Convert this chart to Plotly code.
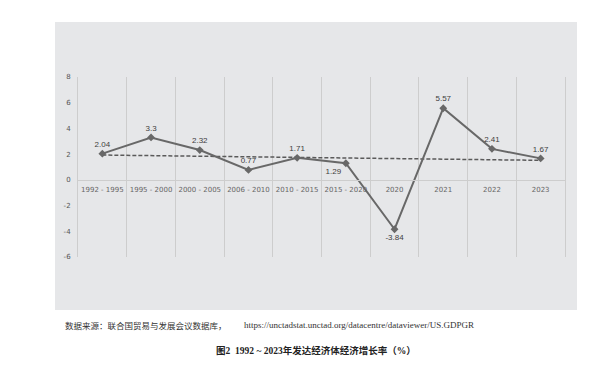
import numpy as np
import plotly.graph_objects as go

categories = ["1992 - 1995", "1995 - 2000", "2000 - 2005", "2006 - 2010", "2010 - 2015",
              "2015 - 2020", "2020", "2021", "2022", "2023"]
growth = [2.04, 3.3, 2.32, 0.77, 1.71, 1.29, -3.84, 5.57, 2.41, 1.67]
label_positions = ["top center"] * 5 + ["bottom left", "bottom center"] + ["top center"] * 3
y_ticks = [8, 6, 4, 2, 0, -2, -4, -6]
y_tick_text = ["8", "6", "4", "2", "0", "-2", "-4", "-6"]

source_cn = "数据来源：联合国贸易与发展会议数据库，"
source_url = "https://unctadstat.unctad.org/datacentre/dataviewer/US.GDPGR"
title_text = "<b>图2  1992 ~ 2023年发达经济体经济增长率（%）</b>"

# linear trend line (as in the original spreadsheet trendline)
idx = np.arange(len(growth))
slope, intercept = np.polyfit(idx, growth, 1)
trend = slope * idx + intercept

# page has an 8px body margin; figure is drawn offset by it
OFF = 8
W, H = 600 - OFF, 372 - OFF
# plot area in page pixels: x 78..565, y 77..257
L, T = 78 - OFF, 77 - OFF
R, B = W - (565 - OFF), H - (257 - OFF)
pw, ph = W - L - R, H - T - B


def px_x(p):
    return (p - OFF - L) / pw


def px_y(p):
    return (H - B - (p - OFF)) / ph


GRID = "#cdcdcd"

fig = go.Figure()
fig.add_trace(go.Scatter(
    x=categories, y=trend, mode="lines",
    line=dict(color="#5a5a5a", width=1.5, dash="4px,2px"),
    hoverinfo="skip", showlegend=False,
))
fig.add_trace(go.Scatter(
    x=categories, y=growth, mode="lines+markers+text",
    line=dict(color="#686868", width=2),
    marker=dict(symbol="diamond", size=6, color="#686868"),
    text=[f"{v:g}" for v in growth], textposition=label_positions,
    textfont=dict(family="Liberation Sans, Arial", size=8, color="#404040"),
    showlegend=False,
))

fig.add_shape(type="rect", xref="paper", yref="paper",
              x0=px_x(55), x1=px_x(577), y0=px_y(310), y1=px_y(22),
              fillcolor="#e6e7e9", line=dict(width=0), layer="below")

fig.add_annotation(x=px_x(63), y=px_y(325), xref="paper", yref="paper",
                   xanchor="left", yanchor="middle", showarrow=False,
                   text=source_cn,
                   font=dict(family="Noto Sans CJK SC", size=8.5, color="#333333"))
fig.add_annotation(x=px_x(242), y=px_y(325), xref="paper", yref="paper",
                   xanchor="left", yanchor="middle", showarrow=False,
                   text=source_url,
                   font=dict(family="Liberation Serif", size=9, color="#333333"))
fig.add_annotation(x=px_x(316), y=px_y(350), xref="paper", yref="paper",
                   xanchor="center", yanchor="middle", showarrow=False,
                   text=title_text,
                   font=dict(family="Liberation Serif, Noto Sans CJK SC", size=9.5, color="#222222"))

fig.update_layout(
    width=W, height=H,
    margin=dict(l=L, r=R, t=T, b=B, pad=0),
    paper_bgcolor="white",
    plot_bgcolor="rgba(0,0,0,0)",
    showlegend=False,
    xaxis=dict(
        type="category", range=[-0.5, len(categories) - 0.5],
        tickson="boundaries", showgrid=True, gridcolor=GRID, gridwidth=1,
        anchor="free", position=6 / 14,
        showline=True, linecolor=GRID, linewidth=1,
        ticks="", ticklabelstandoff=3, tickangle=0,
        tickfont=dict(family="DejaVu Sans", size=7, color="#666666"),
        fixedrange=True,
    ),
    yaxis=dict(
        range=[-6, 8], tickvals=y_ticks, ticktext=y_tick_text,
        showgrid=False, zeroline=False,
        showline=True, mirror=True, linecolor=GRID, linewidth=1,
        ticks="", ticklabelstandoff=5,
        tickfont=dict(family="DejaVu Sans", size=7, color="#555555"),
        fixedrange=True,
    ),
)

fig.write_html("out.html")
